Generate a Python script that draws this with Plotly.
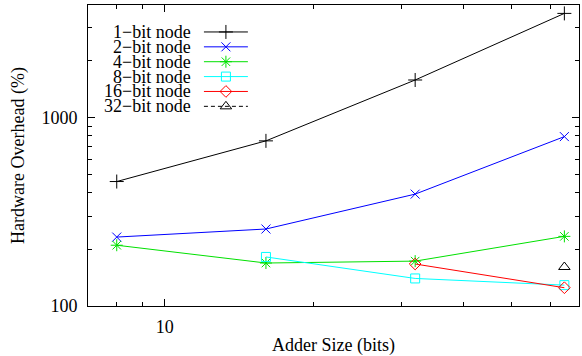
import math
import plotly.graph_objects as go

# ---- data ----
adder_sizes = [8, 16, 32, 64]
node_1bit = [457, 751, 1579, 3560]
node_2bit = [232, 256, 392, 791]
node_4bit = [210, 169, 173, 234]
node_8bit = [None, 182, 140, 129]
node_16bit = [None, None, 167, 125]
node_32bit = [None, None, None, 161]

series_names = ["1\u2212bit node", "2\u2212bit node", "4\u2212bit node",
                "8\u2212bit node", "16\u2212bit node", "32\u2212bit node"]
series_values = [node_1bit, node_2bit, node_4bit, node_8bit, node_16bit, node_32bit]

x_major_ticks = [10]
x_major_labels = ["10"]
x_minor_ticks = [7, 8, 9, 20, 30, 40, 50, 60]
y_major_ticks = [100, 1000]
y_major_labels = ["100", "1000"]
y_minor_ticks = [200, 300, 400, 500, 600, 700, 800, 900, 2000, 3000]

# ---- styles ----
colors = ["#000000", "#0000ff", "#00e000", "#00ffff", "#ff0000", "#000000"]
symbols = ["cross-thin-open", "x-thin-open", "asterisk-open", "square-open",
           "diamond-open", "triangle-up-open"]
sizes = [10, 9, 10, 9, 9, 10]
dashes = ["solid", "solid", "solid", "solid", "solid", "4px,3px"]

FONT = "Liberation Serif"
W, H = 582, 356
L, R, T, B = 88, 579.3, 5, 306.5

fig = go.Figure()

for name, vals, c, s, sz, d in zip(series_names, series_values, colors, symbols, sizes, dashes):
    fig.add_trace(go.Scatter(
        x=adder_sizes, y=vals, mode="lines+markers", name=name,
        line=dict(color=c, width=1, dash=d),
        marker=dict(symbol=s, size=sz, color=c, line=dict(color=c, width=1)),
        connectgaps=False, showlegend=False,
    ))

# ---- custom gnuplot-style legend (pixel-coordinate helper axes) ----
leg_text_x = 193
leg_line_x0, leg_line_x1 = 204, 248
leg_y0, leg_dy = 32, 14.9
for i, (name, c, s, sz, d) in enumerate(zip(series_names, colors, symbols, sizes, dashes)):
    yy = leg_y0 + i * leg_dy
    fig.add_annotation(x=leg_text_x, y=yy, xref="x2", yref="y2", text=name,
                       showarrow=False, xanchor="right", yanchor="middle",
                       font=dict(family=FONT, size=18, color="black"))
    fig.add_shape(type="line", xref="x2", yref="y2",
                  x0=leg_line_x0, x1=leg_line_x1, y0=yy, y1=yy,
                  line=dict(color=c, width=1, dash=d))
    fig.add_trace(go.Scatter(
        x=[(leg_line_x0 + leg_line_x1) / 2], y=[yy], xaxis="x2", yaxis="y2",
        mode="markers", showlegend=False, hoverinfo="skip",
        marker=dict(symbol=s, size=sz, color=c, line=dict(color=c, width=1)),
    ))

fig.update_layout(
    width=W, height=H,
    margin=dict(l=L, r=W - R, t=T, b=H - B, autoexpand=False),
    paper_bgcolor="white", plot_bgcolor="white",
    font=dict(family=FONT, size=18, color="black"),
    showlegend=False,
    xaxis=dict(
        type="log", range=[math.log10(7), math.log10(68.5)],
        tickmode="array", tickvals=x_major_ticks, ticktext=x_major_labels,
        ticks="inside", ticklen=7, tickcolor="black", tickwidth=1,
        showline=True, linecolor="black", linewidth=1, mirror="ticks",
        showgrid=False, zeroline=False, automargin=False,
        minor=dict(tickmode="array", tickvals=x_minor_ticks, ticks="inside",
                   ticklen=4, tickcolor="black", tickwidth=1, showgrid=False),
        title=dict(text="Adder Size (bits)", standoff=4,
                   font=dict(family=FONT, size=18)),
        tickfont=dict(family=FONT, size=18),
        ticklabelstandoff=4,
    ),
    yaxis=dict(
        type="log", range=[2, 3.596],
        tickmode="array", tickvals=y_major_ticks, ticktext=y_major_labels,
        ticks="inside", ticklen=7, tickcolor="black", tickwidth=1,
        showline=True, linecolor="black", linewidth=1, mirror="ticks",
        showgrid=False, zeroline=False, automargin=False,
        minor=dict(tickmode="array", tickvals=y_minor_ticks, ticks="inside",
                   ticklen=4, tickcolor="black", tickwidth=1, showgrid=False),
        title=dict(text="Hardware Overhead (%)", standoff=12,
                   font=dict(family=FONT, size=18)),
        tickfont=dict(family=FONT, size=18),
        ticklabelstandoff=6,
    ),
    xaxis2=dict(overlaying="x", range=[L, R], visible=False, fixedrange=True),
    yaxis2=dict(overlaying="y", range=[B, T], visible=False, fixedrange=True),
)

fig.write_html("out.html",
               config={"displayModeBar": False, "staticPlot": True},
               post_script="document.body.style.margin='0';document.body.style.padding='0';")
